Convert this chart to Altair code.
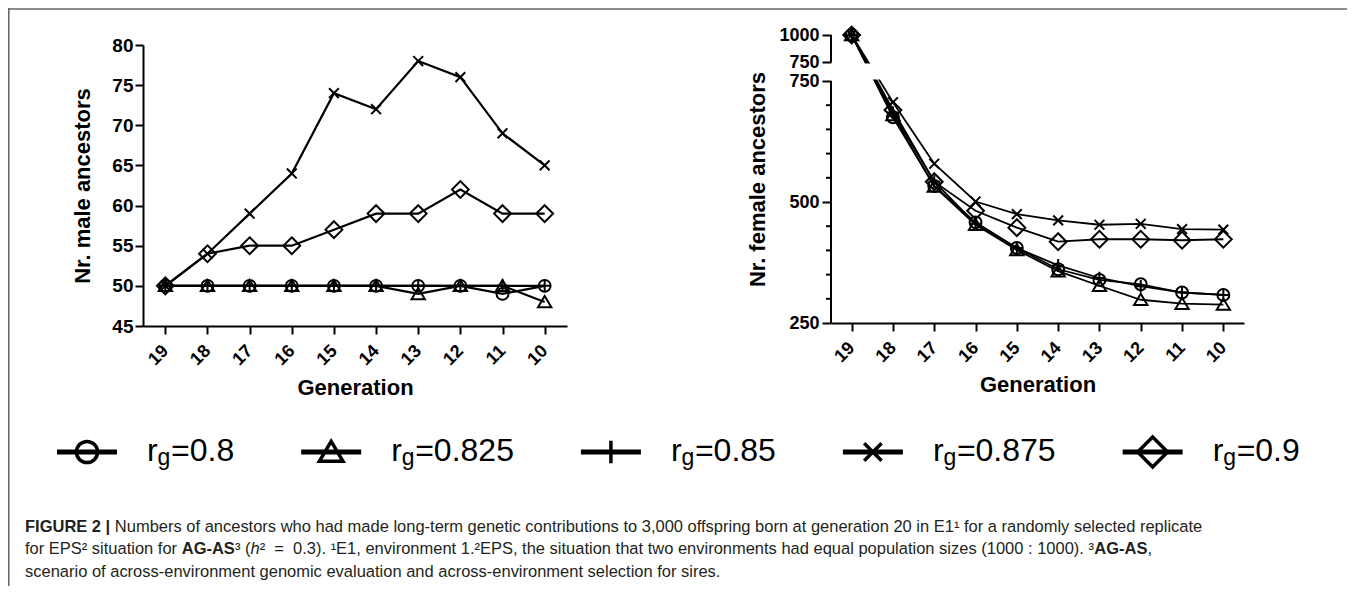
import altair as alt
import pandas as pd

# ------------------------------------------------------------------ data
generations = ["19", "18", "17", "16", "15", "14", "13", "12", "11", "10"]
series_names = ["rg=0.8", "rg=0.825", "rg=0.85", "rg=0.875", "rg=0.9"]
legend_numbers = ["0.8", "0.825", "0.85", "0.875", "0.9"]

male_rg080 = [50, 50, 50, 50, 50, 50, 50, 50, 49, 50]
male_rg0825 = [50, 50, 50, 50, 50, 50, 49, 50, 50, 48]
male_rg085 = [50, 50, 50, 50, 50, 50, 50, 50, 50, 50]
male_rg0875 = [50, 54, 59, 64, 74, 72, 78, 76, 69, 65]
male_rg090 = [50, 54, 55, 55, 57, 59, 59, 62, 59, 59]

female_rg080 = [1000, 675, 533, 458, 405, 361, 339, 330, 313, 308]
female_rg0825 = [1000, 680, 532, 453, 401, 357, 327, 298, 290, 288]
female_rg085 = [1000, 685, 542, 455, 405, 369, 343, 326, 313, 308]
female_rg0875 = [1000, 706, 579, 501, 475, 462, 453, 455, 444, 443]
female_rg090 = [1000, 690, 542, 482, 447, 418, 423, 423, 421, 423]

male_ticks = [45, 50, 55, 60, 65, 70, 75, 80]
female_break_low = 750
female_break_high = 750.01          # same value, drawn on the upper segment
female_major_ticks = [250, 500, 750, 750.01, 1000]
female_minor_ticks = [300, 350, 400, 450, 550, 600, 650, 700]

caption_lines = [
    [("FIGURE 2 | ", "bold"),
     ("Numbers of ancestors who had made long-term genetic contributions to 3,000 offspring born at generation 20 in E1\u00b9 for a randomly selected replicate", "normal")],
    [("for EPS\u00b2 situation for ", "normal"), ("AG-AS", "bold"), ("\u00b3 (", "normal"), ("h", "italic"),
     ("\u00b2 \u00a0=\u00a0 0.3). \u00b9E1, environment 1.\u00b2EPS, the situation that two environments had equal population sizes (1000 : 1000). \u00b3", "normal"),
     ("AG-AS", "bold"), (",", "normal")],
    [("scenario of across-environment genomic evaluation and across-environment selection for sires.", "normal")],
]

# ------------------------------------------------------------------ layout
W, H = 1339, 578
L_X = [135, 559]
L_Y = [318, 37]
R_X = [823, 1236]
R_Y_DOMAIN = [250, female_break_low, female_break_high, 1000]
R_Y_RANGE = [315, 73, 54, 27]
FONT = "Liberation Sans"


def _table(groups):
    t = {}
    for chars, w in groups:
        for ch in chars:
            t[ch] = w
    return t


REG_W = _table([
    (" ,.:;!/[]ftI\u00a0", 278), ("ijl", 222), ("()-r\u00b9\u00b2\u00b3", 333), ("|", 260),
    ("cksvxyzJ", 500), ("0123456789abdeghnopquL", 556), ("=+<>", 584),
    ("ABEKPSVXY", 667), ("FTZ", 611), ("CDHNRUw", 722), ("GOQ", 778), ("mM", 833), ("W", 944),
])
BOLD_W = _table([
    (" ,.\u00a0ijlI", 278), ("()-tf\u00b9\u00b2\u00b3", 333), ("|", 280), ("r", 389), ("z", 500),
    ("0123456789acesvxykJ", 556), ("bdghnopquL", 611), ("EPSVXY", 667), ("FTZ", 611),
    ("ABCDHKNRU", 722), ("GOQ", 778), ("w", 778), ("M", 833), ("m", 889), ("W", 944),
])


def em_width(s, style):
    table = BOLD_W if style == "bold" else REG_W
    return sum(table.get(c, 556) for c in s) / 1000.0


# ------------------------------------------------------------------ shapes
CIRCLE = "M-0.85,0A0.85,0.85 0 1,0 0.85,0A0.85,0.85 0 1,0 -0.85,0Z"
TRIANGLE = "M0,-0.85L0.95,0.75L-0.95,0.75Z"
PLUS = "M-0.85,0H0.85M0,-0.9V0.9"
CROSS = "M-0.7,-0.7L0.7,0.7M-0.7,0.7L0.7,-0.7"
DIAMOND = "M0,-1.2L1.2,0L0,1.2L-1.2,0Z"
shape_scale = alt.Scale(domain=series_names, range=[CIRCLE, TRIANGLE, PLUS, CROSS, DIAMOND])


def long_df(cols):
    rows = []
    for name, vals in zip(series_names, cols):
        for g, v in zip(generations, vals):
            rows.append({"gen": g, "value": v, "series": name})
    return pd.DataFrame(rows)


male_df = long_df([male_rg080, male_rg0825, male_rg085, male_rg0875, male_rg090])
female_df = long_df([female_rg080, female_rg0825, female_rg085, female_rg0875, female_rg090])

axis_common = dict(
    domainColor="black", domainWidth=2, tickColor="black", tickWidth=2,
    labelColor="black", labelFont=FONT, labelFontWeight="bold",
    titleFont=FONT, titleFontWeight="bold", titleColor="black", titleFontSize=22,
    grid=False, labelOverlap=False, zindex=0,
)


def x_axis(y_bottom):
    return alt.Axis(orient="bottom", offset=y_bottom - H, title="Generation",
                    labelAngle=-45, labelAlign="right", labelBaseline="middle",
                    labelFontSize=18, tickSize=8, labelPadding=14, titlePadding=9,
                    **axis_common)


def panel(df, xscale, yscale, xaxis, yaxis, line_w, extra):
    base = alt.Chart(df)
    x = alt.X("gen:N", sort=generations, scale=xscale, axis=xaxis)
    y = alt.Y("value:Q", scale=yscale, axis=yaxis)
    line = base.mark_line(color="black", strokeWidth=line_w).encode(x=x, y=y, detail="series:N")
    pts = base.mark_point(filled=False, color="black", strokeWidth=2, size=196, opacity=1).encode(
        x=x, y=y, shape=alt.Shape("series:N", scale=shape_scale, legend=None))
    return alt.layer(line, pts, *extra)


# ---- left panel (male)
left_xscale = alt.Scale(type="point", range=L_X, padding=0.53)
left_yscale = alt.Scale(domain=[45, 80], range=L_Y, zero=False, nice=False)
left_yaxis = alt.Axis(orient="left", offset=-L_X[0], title="Nr. male ancestors",
                      values=male_ticks, format="d", labelFontSize=19, tickSize=8,
                      labelPadding=2, titlePadding=17, **axis_common)
left = panel(male_df, left_xscale, left_yscale, x_axis(L_Y[0]), left_yaxis, 2.2, [])

# ---- right panel (female) with broken axis
right_xscale = alt.Scale(type="point", range=R_X, padding=0.5)
right_yscale = alt.Scale(domain=R_Y_DOMAIN, range=R_Y_RANGE, zero=False, nice=False)
right_yaxis = alt.Axis(orient="left", offset=-R_X[0], title="Nr. female ancestors",
                       values=female_major_ticks, format="d", labelFontSize=18, tickSize=9,
                       labelPadding=3, titlePadding=9, domain=False,
                       **{k: v for k, v in axis_common.items()})
gap_mask = alt.Chart(pd.DataFrame({"k": [0]})).mark_rect(color="white").encode(
    x=alt.value(R_X[0] + 1.5), x2=alt.value(R_X[1]),
    y=alt.datum(female_break_low + 0.0008), y2=alt.datum(female_break_high - 0.0008))
upper_domain = alt.Chart(pd.DataFrame({"k": [0]})).mark_rule(color="black", strokeWidth=2).encode(
    x=alt.value(R_X[0]), y=alt.datum(1000), y2=alt.datum(female_break_high))
lower_domain = alt.Chart(pd.DataFrame({"k": [0]})).mark_rule(color="black", strokeWidth=2).encode(
    x=alt.value(R_X[0]), y=alt.datum(female_break_low), y2=alt.datum(250))
minor = alt.Chart(pd.DataFrame({"value": female_minor_ticks})).mark_rule(color="black", strokeWidth=2).encode(
    x=alt.value(R_X[0] - 5), x2=alt.value(R_X[0]),
    y=alt.Y("value:Q", scale=right_yscale, axis=right_yaxis))
right = panel(female_df, right_xscale, right_yscale, x_axis(R_Y_RANGE[0]), right_yaxis, 1.8,
              [gap_mask, upper_domain, lower_domain, minor])

# ---- canvas: frame, legend, caption (pixel scales)
cxs = alt.Scale(domain=[0, W], range=[0, W], zero=False, nice=False)
cys = alt.Scale(domain=[0, H], range=[0, H], zero=False, nice=False)
CX = lambda f: alt.X(f, type="quantitative", scale=cxs, axis=None)
CY = lambda f: alt.Y(f, type="quantitative", scale=cys, axis=None)

frame_df = pd.DataFrame({"x": [0, 0.75], "x2": [W, 0.75], "y": [1, 0], "y2": [1, H]})
frame = alt.Chart(frame_df).mark_rule(color="#666666", strokeWidth=1.6).encode(
    x=CX("x"), x2="x2", y=CY("y"), y2="y2")

LEG_FS, SUB_FS = 32, 23
LEG_Y = 444
centers = []
c = 79
for num in legend_numbers:
    centers.append(c)
    c += 181 + em_width("=" + num, "normal") * LEG_FS
leg_df = pd.DataFrame({
    "c": centers, "l": [v - 30 for v in centers], "r": [v + 30 for v in centers],
    "t": [v + 60 for v in centers], "tg": [v + 70.5 for v in centers], "tr": [v + 84 for v in centers],
    "y": [LEG_Y] * 5, "yb": [LEG_Y + 8.5] * 5, "ys": [LEG_Y + 13] * 5,
    "series": series_names, "rest": ["=" + n for n in legend_numbers],
    "r_txt": ["r"] * 5, "g_txt": ["g"] * 5,
})
leg_base = alt.Chart(leg_df)
leg_lines = leg_base.mark_rule(color="black", strokeWidth=5).encode(x=CX("l"), x2="r", y=CY("y"))
leg_pts = leg_base.mark_point(filled=False, color="black", strokeWidth=3.5, size=620, opacity=1).encode(
    x=CX("c"), y=CY("y"), shape=alt.Shape("series:N", scale=shape_scale, legend=None))
leg_r = leg_base.mark_text(align="left", baseline="alphabetic", font=FONT, fontSize=LEG_FS, color="black").encode(
    x=CX("t"), y=CY("yb"), text="r_txt:N")
leg_g = leg_base.mark_text(align="left", baseline="alphabetic", font=FONT, fontSize=SUB_FS, color="black").encode(
    x=CX("tg"), y=CY("ys"), text="g_txt:N")
leg_rest = leg_base.mark_text(align="left", baseline="alphabetic", font=FONT, fontSize=LEG_FS, color="black").encode(
    x=CX("tr"), y=CY("yb"), text="rest:N")

CAP_X = 17
CAP_BASELINES = [524, 546, 568.5]
line1_em = sum(em_width(s, st) for s, st in caption_lines[0])
CAP_FS = 1178.0 / line1_em
runs = []
for line, base_y in zip(caption_lines, CAP_BASELINES):
    x = CAP_X
    for s, st in line:
        runs.append({"x": x, "y": base_y, "text": s, "style": st})
        x += em_width(s, st) * CAP_FS
runs_df = pd.DataFrame(runs)
cap_layers = []
for st, weight, fstyle in [("normal", "normal", "normal"), ("bold", "bold", "normal"), ("italic", "normal", "italic")]:
    sub = runs_df[runs_df["style"] == st]
    cap_layers.append(
        alt.Chart(sub).mark_text(align="left", baseline="alphabetic", font=FONT, fontSize=CAP_FS,
                                 fontWeight=weight, fontStyle=fstyle, color="#231f20").encode(
            x=CX("x"), y=CY("y"), text="text:N"))

canvas = alt.layer(frame, leg_lines, leg_pts, leg_r, leg_g, leg_rest, *cap_layers)

chart = (
    alt.layer(left, right, canvas)
    .resolve_scale(x="independent", y="independent")
    .resolve_axis(x="independent", y="independent")
    .properties(width=W, height=H, padding=0, autosize=alt.AutoSizeParams(type="none"),
                background="white")
    .configure_view(stroke=None)
)

chart.save("out.html", embed_options={"renderer": "svg", "actions": False})
